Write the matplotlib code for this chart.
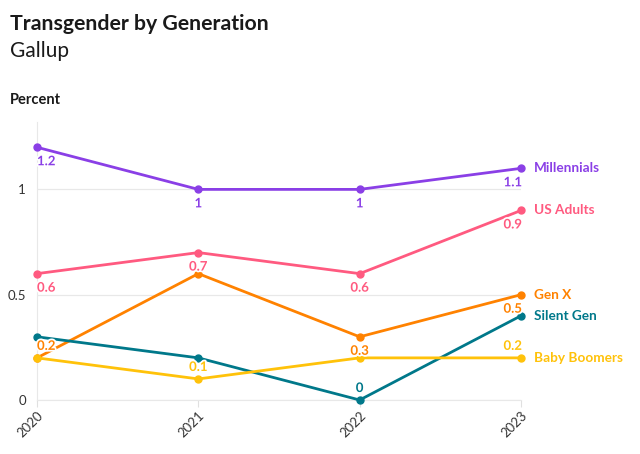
import matplotlib
matplotlib.use("Agg")
import matplotlib.pyplot as plt
import matplotlib.patheffects as pe

plt.rcParams['font.family'] = ['Lato', 'DejaVu Sans']

years = [2020, 2021, 2022, 2023]
series_names = ["Millennials", "US Adults", "Gen X", "Silent Gen", "Baby Boomers"]
millennials = [1.2, 1.0, 1.0, 1.1]
us_adults = [0.6, 0.7, 0.6, 0.9]
gen_x = [0.2, 0.6, 0.3, 0.5]
silent_gen = [0.3, 0.2, 0.0, 0.4]
baby_boomers = [0.2, 0.1, 0.2, 0.2]
values = [millennials, us_adults, gen_x, silent_gen, baby_boomers]
colors = ["#8a3fe6", "#ff5a80", "#ff8200", "#00788a", "#ffc20a"]

# which point labels are shown: (series index, year index, 'above'/'below')
shown_labels = [
    (0, 0, 'below'), (0, 1, 'below'), (0, 2, 'below'), (0, 3, 'below'),
    (1, 0, 'below'), (1, 1, 'below'), (1, 2, 'below'), (1, 3, 'below'),
    (2, 0, 'above'), (2, 2, 'below'), (2, 3, 'below'),
    (3, 2, 'above'),
    (4, 1, 'above'), (4, 3, 'above'),
]

fig = plt.figure(figsize=(6.4, 4.54), dpi=100)
ax = fig.add_axes([37/640, 1-400/454, (521-37)/640, (400-122)/454])

for name, vals, c in zip(series_names, values, colors):
    ax.plot(years, vals, color=c, lw=2.0, marker='o', ms=5, zorder=3, clip_on=False)
    ax.text(years[-1] + 0.08, vals[-1], name, color=c, fontsize=9.8, fontweight='bold',
            va='center', ha='left')

def fmt(v):
    return f"{v:g}"

for si, yi, pos in shown_labels:
    v = values[si][yi]
    x = years[yi]
    if yi == 0:
        ha, dx = 'left', 0
    elif yi == len(years) - 1:
        ha, dx = 'right', 1
    else:
        ha, dx = 'center', 0
    dy = -14 if pos == 'below' else 12
    ax.annotate(fmt(v), (x, v), xytext=(dx, dy), textcoords='offset pixels',
                ha=ha, va='center', color=colors[si], fontsize=9.5, fontweight='bold',
                zorder=4,
                path_effects=[pe.withStroke(linewidth=2.5, foreground='white')])

ax.set_xlim(2020, 2023)
ax.set_ylim(0, 1.32)
ax.set_yticks([0, 0.5, 1])
ax.set_yticklabels(["0", "0.5", "1"])
ax.set_xticks(years)
ax.set_xticklabels([str(y) for y in years], rotation=45, ha='right', rotation_mode='anchor')
ax.grid(axis='y', color='#e8e8e8', lw=0.9)
ax.set_axisbelow(True)
for s in ['top', 'right']:
    ax.spines[s].set_visible(False)
ax.spines['left'].set_color('#e8e8e8')
ax.spines['bottom'].set_color('#e8e8e8')
ax.tick_params(axis='y', length=0, pad=8, labelsize=9.5, labelcolor='#333333')
ax.tick_params(axis='x', length=5, color='#e0e0e0', pad=2, labelsize=9.5, labelcolor='#333333')

fig.text(10/640, 1-24/454, "Transgender by Generation", fontsize=15.3, fontweight='bold',
         color='#1a1a1a', va='center', ha='left')
fig.text(10/640, 1-51/454, "Gallup", fontsize=15, color='#1a1a1a', va='center', ha='left')
fig.text(10/640, 1-100/454, "Percent", fontsize=10.5, fontweight='bold', color='#1a1a1a',
         va='center', ha='left')

fig.savefig("out.png", dpi=100)
